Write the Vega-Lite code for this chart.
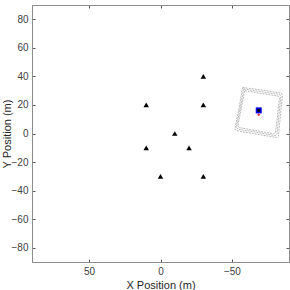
{
  "$schema": "https://vega.github.io/schema/vega-lite/v6.json",
  "autosize": "none",
  "padding": {"left": 32, "top": 5, "right": 1, "bottom": 28},
  "width": 257,
  "height": 257,
  "config": {
    "view": {"stroke": "#8c8c8c", "strokeWidth": 1},
    "axis": {"grid": false, "domainColor": "#8c8c8c", "tickColor": "#595959", "labelColor": "#404040", "titleColor": "#262626", "labelFont": "Liberation Sans", "titleFont": "Liberation Sans", "labelFontSize": 10, "titleFontSize": 11, "titleFontWeight": "normal", "tickSize": -3, "labelPadding": 7}
  },
  "datasets": {
    "pts": [
      {"x": -30, "y": 40}, {"x": 10, "y": 20}, {"x": -30, "y": 20}, {"x": -10, "y": 0},
      {"x": 10, "y": -10}, {"x": -20, "y": -10}, {"x": 0, "y": -30}, {"x": -30, "y": -30}
    ],
    "loops": [
      {"loop": "a", "o": 1, "x": -57.6, "y": 32.2}, {"loop": "a", "o": 2, "x": -71.5, "y": 30.4}, {"loop": "a", "o": 3, "x": -84.6, "y": 28.3}, {"loop": "a", "o": 4, "x": -85.4, "y": 26.8}, {"loop": "a", "o": 5, "x": -84.0, "y": 12.5}, {"loop": "a", "o": 6, "x": -82.6, "y": -1.8}, {"loop": "a", "o": 7, "x": -81.4, "y": -2.8}, {"loop": "a", "o": 8, "x": -67.0, "y": -0.4}, {"loop": "a", "o": 9, "x": -53.0, "y": 2.0}, {"loop": "a", "o": 10, "x": -52.1, "y": 3.3}, {"loop": "a", "o": 11, "x": -55.0, "y": 17.5}, {"loop": "a", "o": 12, "x": -57.2, "y": 31.0}, {"loop": "a", "o": 13, "x": -57.6, "y": 32.2},
      {"loop": "b", "o": 1, "x": -58.3, "y": 31.2}, {"loop": "b", "o": 2, "x": -71.2, "y": 29.2}, {"loop": "b", "o": 3, "x": -83.6, "y": 27.3}, {"loop": "b", "o": 4, "x": -84.3, "y": 25.8}, {"loop": "b", "o": 5, "x": -82.9, "y": 12.6}, {"loop": "b", "o": 6, "x": -81.6, "y": -0.5}, {"loop": "b", "o": 7, "x": -80.4, "y": -1.5}, {"loop": "b", "o": 8, "x": -66.8, "y": 0.9}, {"loop": "b", "o": 9, "x": -54.0, "y": 3.1}, {"loop": "b", "o": 10, "x": -53.2, "y": 4.4}, {"loop": "b", "o": 11, "x": -55.8, "y": 17.8}, {"loop": "b", "o": 12, "x": -58.0, "y": 30.0}, {"loop": "b", "o": 13, "x": -58.3, "y": 31.2},
      {"loop": "c", "o": 1, "x": -59.0, "y": 30.0}, {"loop": "c", "o": 2, "x": -71.0, "y": 28.0}, {"loop": "c", "o": 3, "x": -82.6, "y": 26.2}, {"loop": "c", "o": 4, "x": -83.3, "y": 24.8}, {"loop": "c", "o": 5, "x": -82.0, "y": 12.5}, {"loop": "c", "o": 6, "x": -80.6, "y": 0.8}, {"loop": "c", "o": 7, "x": -79.4, "y": -0.2}, {"loop": "c", "o": 8, "x": -66.6, "y": 2.0}, {"loop": "c", "o": 9, "x": -55.0, "y": 4.2}, {"loop": "c", "o": 10, "x": -54.2, "y": 5.5}, {"loop": "c", "o": 11, "x": -56.6, "y": 18.0}, {"loop": "c", "o": 12, "x": -58.7, "y": 28.8}, {"loop": "c", "o": 13, "x": -59.0, "y": 30.0}
    ],
    "veh": [{"x": -68.8, "y": 16.2}],
    "tgt": [{"x": -68.8, "y": 13.2}]
  },
  "layer": [
    {
      "data": {"name": "loops"},
      "mark": {"type": "line", "color": "#9a9a9a", "strokeWidth": 0.7, "strokeDash": [2, 1], "clip": true},
      "encoding": {
        "x": {"field": "x", "type": "quantitative", "scale": {"domain": [-90, 90], "reverse": true, "nice": false}, "axis": {"values": [50, 0, -50], "title": "X Position (m)", "titlePadding": 3}},
        "y": {"field": "y", "type": "quantitative", "scale": {"domain": [-90, 90], "nice": false}, "axis": {"values": [-80, -60, -40, -20, 0, 20, 40, 60, 80], "title": "Y Position (m)", "titleX": -20}},
        "detail": {"field": "loop"},
        "order": {"field": "o"}
      }
    },
    {
      "data": {"name": "pts"},
      "mark": {"type": "point", "shape": "triangle-up", "filled": true, "color": "black", "size": 30, "opacity": 1},
      "encoding": {
        "x": {"field": "x", "type": "quantitative", "axis": {"orient": "top", "values": [50, 0, -50], "labels": false, "title": null}},
        "y": {"field": "y", "type": "quantitative", "axis": {"orient": "right", "values": [-80, -60, -40, -20, 0, 20, 40, 60, 80], "labels": false, "title": null}}
      }
    },
    {
      "data": {"name": "tgt"},
      "mark": {"type": "point", "shape": "diamond", "filled": true, "color": "#ff3b3b", "size": 10, "opacity": 1},
      "encoding": {
        "x": {"field": "x", "type": "quantitative", "axis": null},
        "y": {"field": "y", "type": "quantitative", "axis": null}
      }
    },
    {
      "data": {"name": "veh"},
      "mark": {"type": "square", "color": "#0000ee", "size": 36, "opacity": 1},
      "encoding": {
        "x": {"field": "x", "type": "quantitative", "axis": null},
        "y": {"field": "y", "type": "quantitative", "axis": null}
      }
    },
    {
      "data": {"name": "veh"},
      "mark": {"type": "square", "color": "black", "size": 8, "opacity": 1},
      "encoding": {
        "x": {"field": "x", "type": "quantitative", "axis": null},
        "y": {"field": "y", "type": "quantitative", "axis": null}
      }
    }
  ],
  "resolve": {"axis": {"x": "independent", "y": "independent"}}
}
